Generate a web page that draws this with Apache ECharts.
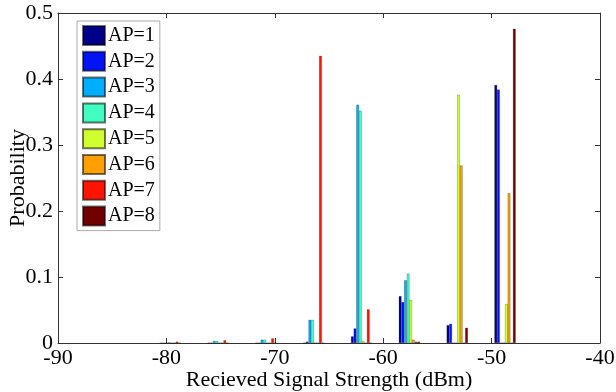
<!DOCTYPE html>
<html>
<head>
<meta charset="utf-8">
<script src="https://cdn.jsdelivr.net/npm/echarts@6/dist/echarts.min.js"></script>
<style>
  html, body { margin: 0; padding: 0; background: #fff; }
  #chart { width: 616px; height: 392px; }
</style>
</head>
<body>
<div id="chart"></div>
<script>
// histogram bin centres (dBm), shared by all APs
const binCenters = [-79.63, -75.22, -70.81, -66.40, -61.99, -57.58, -53.17, -48.76]

// probability per bin, one array per access point
const ap1 = [0, 0, 0, 0, 0.010, 0.071, 0.027, 0.391]
const ap2 = [0, 0, 0, 0.002, 0.022, 0.062, 0.029, 0.384]
const ap3 = [0, 0.003, 0.005, 0.035, 0.361, 0.095, 0, 0]
const ap4 = [0.001, 0.003, 0.005, 0.035, 0.352, 0.105, 0, 0]
const ap5 = [0, 0, 0, 0, 0.003, 0.065, 0.376, 0.059]
const ap6 = [0, 0, 0, 0, 0, 0.005, 0.269, 0.227]
const ap7 = [0.002, 0.004, 0.007, 0.435, 0.051, 0.002, 0, 0]
const ap8 = [0, 0, 0, 0, 0, 0.002, 0.023, 0.476]

const seriesNames = ['AP=1', 'AP=2', 'AP=3', 'AP=4', 'AP=5', 'AP=6', 'AP=7', 'AP=8']
const seriesValues = [ap1, ap2, ap3, ap4, ap5, ap6, ap7, ap8]
const colors = ['#000088', '#0014f5', '#00aeff', '#40ffc0', '#d0ff30', '#ffa000', '#ff1400', '#720000']

const xTicks = { min: -90, max: -40, interval: 10 }
const yTicks = { min: 0, max: 0.5, interval: 0.1 }

const font = '"Liberation Serif", "Times New Roman", serif'
const axisColor = '#333'

const chart = echarts.init(document.getElementById('chart'), null, { renderer: 'canvas' })

const baseX = {
  type: 'value',
  ...xTicks,
  axisLine: { show: true, onZero: false, lineStyle: { color: axisColor, width: 1 } },
  axisTick: { show: true, inside: true, length: 5, lineStyle: { color: axisColor } },
  splitLine: { show: false },
}
const baseY = {
  type: 'value',
  ...yTicks,
  axisLine: { show: true, onZero: false, lineStyle: { color: axisColor, width: 1 } },
  axisTick: { show: true, inside: true, length: 5, lineStyle: { color: axisColor } },
  splitLine: { show: false },
}

chart.setOption({
  animation: false,
  backgroundColor: '#fff',
  grid: { left: 58, right: 16, top: 13, bottom: 49, containLabel: false, outerBoundsMode: 'none' },
  legend: {
    orient: 'vertical',
    left: 77,
    top: 21,
    data: seriesNames,
    backgroundColor: '#fff',
    borderColor: '#aaa',
    borderWidth: 1,
    padding: [4, 5, 4, 5],
    itemGap: 4.8,
    itemWidth: 22,
    itemHeight: 19,
    icon: 'rect',
    textStyle: { fontFamily: font, fontSize: 20, color: '#000', padding: [0, 0, 0, -2] },
  },
  xAxis: [
    {
      ...baseX,
      position: 'bottom',
      name: 'Recieved Signal Strength (dBm)',
      nameLocation: 'middle',
      nameGap: 26,
      nameMoveOverlap: false,
      nameTextStyle: { fontFamily: font, fontSize: 22, color: '#000' },
      axisLabel: { fontFamily: font, fontSize: 22, color: '#000', margin: 4 },
    },
    { ...baseX, position: 'top', axisLabel: { show: false } },
  ],
  yAxis: [
    {
      ...baseY,
      position: 'left',
      name: 'Probability',
      nameLocation: 'middle',
      nameGap: 29,
      nameMoveOverlap: false,
      nameTextStyle: { fontFamily: font, fontSize: 22, color: '#000' },
      axisLabel: { fontFamily: font, fontSize: 22, color: '#000', margin: 5 },
    },
    { ...baseY, position: 'right', axisLabel: { show: false } },
  ],
  series: seriesNames.map((name, i) => ({
    name,
    type: 'bar',
    xAxisIndex: 0,
    yAxisIndex: 0,
    barWidth: 2.65,
    barGap: '0%',
    data: binCenters.map((x, j) => [x, seriesValues[i][j]]),
    itemStyle: { color: colors[i], borderColor: 'rgba(0,0,0,0.55)', borderWidth: 0.4 },
  })),
})
</script>
</body>
</html>
